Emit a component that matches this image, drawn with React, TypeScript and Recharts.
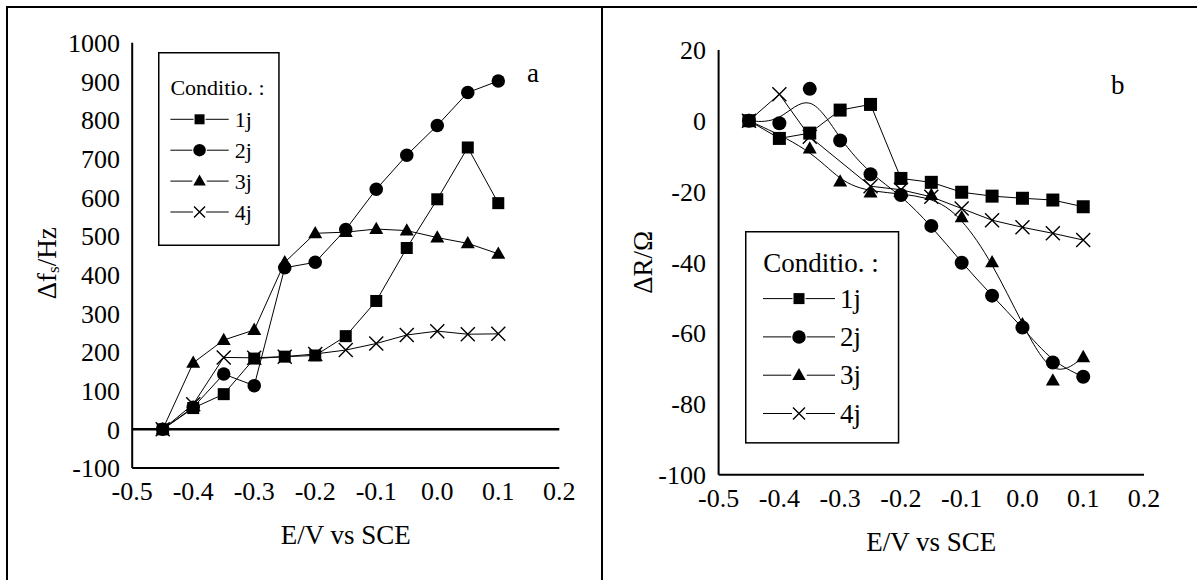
import React from 'react';
import { LineChart, Line, XAxis, YAxis, ReferenceLine, Legend, Label } from 'recharts';

const FONT = "'Liberation Serif', 'Times New Roman', Times, serif";

// ---------------- data ----------------
const potentials = [-0.45, -0.4, -0.35, -0.3, -0.25, -0.2, -0.15, -0.1, -0.05, 0.0, 0.05, 0.1];

// panel a : Δf_s / Hz
const freq1j = [0, 55, 91, 183, 188, 191, 241, 332, 469, 595, 729, 585];
const freq2j = [0, 57, 143, 113, 418, 432, 517, 621, 709, 786, 871, 901];
const freq3j = [0, 172, 231, 257, 432, 507, 510, 518, 514, 496, 481, 454];
const freq4j = [0, 65, 186, 185, 188, 195, 205, 222, 244, 254, 246, 247];

// panel b : ΔR / Ω
const res1j = [0, -5, -3.5, 3, 4.6, -16.3, -17.4, -20.2, -21.3, -21.9, -22.4, -24.3];
const res2j = [0, -0.7, 9, -5.6, -15.1, -21, -29.7, -40.1, -49.4, -58.4, -68.3, -72.3];
const res3j = [0, null, -7.9, -17.2, -20.3, null, -21, -27.3, -40, -57.5, -73.4, -66.8];
const res4j = [0, 7.5, -4.5, null, -18.5, -19.5, -21.5, -24.8, -28.1, -30.1, -31.8, -33.7];

const seriesNames = ['1j', '2j', '3j', '4j'];
const seriesShapes = ['square', 'circle', 'triangle', 'cross'];
const legendTitle = 'Conditio. :';

const xMajorTicks = [-0.5, -0.4, -0.3, -0.2, -0.1, 0, 0.1, 0.2];
const xMinorTicks = [-0.45, -0.35, -0.25, -0.15, -0.05, 0.05, 0.15];
const freqMajorTicks = [-100, 0, 100, 200, 300, 400, 500, 600, 700, 800, 900, 1000];
const freqMinorTicks = [-50, 50, 150, 250, 350, 450, 550, 650, 750, 850, 950];
const resMajorTicks = [-100, -80, -60, -40, -20, 0, 20];
const resMinorTicks = [-90, -70, -50, -30, -10, 10];

const leftData = potentials.map((x, i) => ({ x, s1: freq1j[i], s2: freq2j[i], s3: freq3j[i], s4: freq4j[i] }));
const rightData = potentials.map((x, i) => ({ x, s1: res1j[i], s2: res2j[i], s3: res3j[i], s4: res4j[i] }));

const serifStyle = { fontFamily: FONT };

// ---------------- markers ----------------
function Marker({ shape, cx, cy, size }: { shape: string; cx: number; cy: number; size: number }) {
  if (shape === 'square') {
    return <rect x={cx - size / 2} y={cy - size / 2} width={size} height={size} fill="#000" />;
  }
  if (shape === 'circle') {
    return <circle cx={cx} cy={cy} r={size / 2} fill="#000" />;
  }
  if (shape === 'triangle') {
    const h = size * 0.88;
    return (
      <polygon
        points={`${cx},${cy - 0.6 * h} ${cx - size / 2},${cy + 0.4 * h} ${cx + size / 2},${cy + 0.4 * h}`}
        fill="#000"
      />
    );
  }
  const s = size / 2;
  return (
    <path
      d={`M${cx - s},${cy - s}L${cx + s},${cy + s}M${cx - s},${cy + s}L${cx + s},${cy - s}`}
      stroke="#000"
      strokeWidth={1.4}
      fill="none"
    />
  );
}

const makeDot = (shape: string, size: number) => (props: any) => {
  const { cx, cy, key } = props;
  if (cx == null || cy == null || !isFinite(cx) || !isFinite(cy)) return <g key={key} />;
  return (
    <g key={key}>
      <Marker shape={shape} cx={cx} cy={cy} size={size} />
    </g>
  );
};

// ---------------- legend ----------------
type LegendCfg = {
  w: number; h: number; fontSize: number; titleX: number; titleY: number;
  rowY0: number; rowGap: number; lineX0: number; lineX1: number; textX: number;
  sizes: number[];
};

const makeLegend = (cfg: LegendCfg) => (props: any) => {
  const payload = props.payload || [];
  const mx = (cfg.lineX0 + cfg.lineX1) / 2;
  return (
    <svg width={cfg.w} height={cfg.h} style={{ display: 'block', overflow: 'visible' }}>
      <rect x={0.75} y={0.75} width={cfg.w - 1.5} height={cfg.h - 1.5} fill="#fff" stroke="#000" strokeWidth={1.5} />
      <text x={cfg.titleX} y={cfg.titleY} fontSize={cfg.fontSize} style={serifStyle} fill="#000" dominantBaseline="central">
        {legendTitle}
      </text>
      {payload.map((p: any, i: number) => {
        const idx = seriesNames.indexOf(p.value);
        const shape = seriesShapes[idx];
        const size = cfg.sizes[idx];
        const cy = cfg.rowY0 + i * cfg.rowGap;
        const gap = size / 2 + 1;
        return (
          <g key={p.value}>
            <line x1={cfg.lineX0} x2={mx - gap} y1={cy} y2={cy} stroke="#000" strokeWidth={1} />
            <line x1={mx + gap} x2={cfg.lineX1} y1={cy} y2={cy} stroke="#000" strokeWidth={1} />
            <Marker shape={shape} cx={mx} cy={cy} size={size} />
            <text x={cfg.textX} y={cy} fontSize={cfg.fontSize} style={serifStyle} fill="#000" dominantBaseline="central">
              {p.value}
            </text>
          </g>
        );
      })}
    </svg>
  );
};

// ---------------- axes helpers ----------------
const emptyTick = () => <g />;
const fmtX = (v: number) => v.toFixed(1);
const tickFont = { fill: '#000', fontSize: 26, fontFamily: FONT, style: serifStyle };
const frameLine = { stroke: '#000', strokeWidth: 2 };
const tickStroke = { stroke: '#000', strokeWidth: 1.5 };

function frameAxes(xDomain: number[], yDomain: number[], yMajor: number[], yMinor: number[]) {
  const xc: any = {
    type: 'number', domain: xDomain, allowDataOverflow: true, mirror: true, height: 0,
    tick: emptyTick, interval: 0, tickLine: tickStroke,
  };
  const yc: any = {
    type: 'number', domain: yDomain, allowDataOverflow: true, mirror: true, width: 0,
    tick: emptyTick, interval: 0, tickLine: tickStroke,
  };
  return [
    <XAxis key="xb1" xAxisId="xb1" orientation="bottom" ticks={xMajorTicks} tickSize={10} axisLine={false} {...xc} />,
    <XAxis key="xb2" xAxisId="xb2" orientation="bottom" ticks={xMinorTicks} tickSize={5} axisLine={false} {...xc} />,
    <XAxis key="xt1" xAxisId="xt1" orientation="top" ticks={xMajorTicks} tickSize={10} axisLine={frameLine} {...xc} />,
    <XAxis key="xt2" xAxisId="xt2" orientation="top" ticks={xMinorTicks} tickSize={5} axisLine={false} {...xc} />,
    <YAxis key="yl1" yAxisId="yl1" orientation="left" ticks={yMajor} tickSize={10} axisLine={false} {...yc} />,
    <YAxis key="yl2" yAxisId="yl2" orientation="left" ticks={yMinor} tickSize={5} axisLine={false} {...yc} />,
    <YAxis key="yr1" yAxisId="yr1" orientation="right" ticks={yMajor} tickSize={10} axisLine={frameLine} {...yc} />,
    <YAxis key="yr2" yAxisId="yr2" orientation="right" ticks={yMinor} tickSize={5} axisLine={false} {...yc} />,
  ];
}

const XTitle = (props: any) => {
  const vb = props.viewBox || { x: 0, y: 0, width: 0 };
  return (
    <text x={vb.x + vb.width / 2} y={vb.y + 76} textAnchor="middle" fontSize={27} style={serifStyle} fill="#000">
      E/V vs SCE
    </text>
  );
};

const YTitleA = (props: any) => {
  const vb = props.viewBox || { x: 0, y: 0, height: 0 };
  const cx = vb.x + 47.5;
  const cy = vb.y + vb.height / 2 + 8;
  return (
    <text
      transform={`rotate(-90 ${cx} ${cy})`}
      x={cx}
      y={cy}
      textAnchor="middle"
      dominantBaseline="central"
      fontSize={27}
      style={serifStyle}
      fill="#000"
    >
      Δf
      <tspan dy={6} fontSize={17}>s</tspan>
      <tspan dy={-6}>/Hz</tspan>
    </text>
  );
};

const YTitleB = (props: any) => {
  const vb = props.viewBox || { x: 0, y: 0, height: 0 };
  const cx = vb.x + 43;
  const cy = vb.y + vb.height / 2;
  return (
    <text
      transform={`rotate(-90 ${cx} ${cy})`}
      x={cx}
      y={cy}
      textAnchor="middle"
      dominantBaseline="central"
      fontSize={27}
      style={serifStyle}
      fill="#000"
    >
      ΔR/Ω
    </text>
  );
};

const leftSizes = [12, 13.5, 14, 14];
const rightSizes = [13, 14, 14, 14];

function seriesLines(sizes: number[], curveTypes: string[]) {
  return ['s1', 's2', 's3', 's4'].map((k, i) => (
    <Line
      key={k}
      xAxisId="x"
      yAxisId="y"
      dataKey={k}
      name={seriesNames[i]}
      type={curveTypes[i] as any}
      stroke="#000"
      strokeWidth={1}
      dot={makeDot(seriesShapes[i], sizes[i])}
      activeDot={false}
      connectNulls
      isAnimationActive={false}
    />
  ));
}

function PanelA() {
  return (
    <LineChart
      width={600}
      height={580}
      data={leftData}
      margin={{ top: 42.7, right: 40.7, left: 0, bottom: 32 }}
      style={serifStyle}
    >
      <XAxis
        xAxisId="x"
        type="number"
        dataKey="x"
        domain={[-0.5, 0.2]}
        allowDataOverflow
        ticks={xMajorTicks}
        interval={0}
        tickFormatter={fmtX}
        tickLine={false}
        tickSize={0}
        tickMargin={13.5}
        height={80}
        axisLine={frameLine}
        tick={tickFont}
        label={<Label content={XTitle} />}
      />
      <YAxis
        yAxisId="y"
        type="number"
        domain={[-100, 1000]}
        allowDataOverflow
        ticks={freqMajorTicks}
        interval={0}
        tickLine={false}
        tickSize={0}
        tickMargin={12.2}
        width={132.2}
        axisLine={frameLine}
        tick={tickFont}
        label={<Label content={YTitleA} />}
      />
      {frameAxes([-0.5, 0.2], [-100, 1000], freqMajorTicks, freqMinorTicks)}
      <ReferenceLine xAxisId="x" yAxisId="y" y={0} stroke="#000" strokeWidth={2.5} />
      {seriesLines(leftSizes, ['linear', 'linear', 'linear', 'linear'])}
      <Legend
        layout="vertical"
        align="center"
        verticalAlign="middle"
        content={makeLegend({
          w: 121.7, h: 194, fontSize: 22, titleX: 12.4, titleY: 35,
          rowY0: 67.3, rowGap: 30.9, lineX0: 12.4, lineX1: 70.7, textX: 76.7,
          sizes: [10, 12.5, 12.5, 11],
        })}
        wrapperStyle={{ left: 158.3, top: 51.7, width: 121.7, height: 194, margin: 0, padding: 0 }}
      />
    </LineChart>
  );
}

function PanelB() {
  return (
    <LineChart
      width={597}
      height={580}
      data={rightData}
      margin={{ top: 49.9, right: 53, left: 0, bottom: 25.2 }}
      style={serifStyle}
    >
      <XAxis
        xAxisId="x"
        type="number"
        dataKey="x"
        domain={[-0.5, 0.2]}
        allowDataOverflow
        ticks={xMajorTicks}
        interval={0}
        tickFormatter={fmtX}
        tickLine={false}
        tickSize={0}
        tickMargin={13.5}
        height={80}
        axisLine={frameLine}
        tick={tickFont}
        label={<Label content={XTitle} />}
      />
      <YAxis
        yAxisId="y"
        type="number"
        domain={[-100, 20]}
        allowDataOverflow
        ticks={resMajorTicks}
        interval={0}
        tickLine={false}
        tickSize={0}
        tickMargin={12.6}
        width={118.6}
        axisLine={frameLine}
        tick={tickFont}
        label={<Label content={YTitleB} />}
      />
      {frameAxes([-0.5, 0.2], [-100, 20], resMajorTicks, resMinorTicks)}
      {seriesLines(rightSizes, ['linear', 'basis', 'basis', 'linear'])}
      <Legend
        layout="vertical"
        align="center"
        verticalAlign="middle"
        content={makeLegend({
          w: 154.3, h: 212.6, fontSize: 27, titleX: 18.3, titleY: 32,
          rowY0: 67.6, rowGap: 38.3, lineX0: 18, lineX1: 90, textX: 95,
          sizes: [11, 13.5, 13.5, 12],
        })}
        wrapperStyle={{ left: 145, top: 230.7, width: 154.3, height: 212.6, margin: 0, padding: 0 }}
      />
    </LineChart>
  );
}

export default function App() {
  return (
    <div
      style={{
        position: 'absolute', left: 0, top: 0, width: 1197, height: 580,
        background: '#fff', overflow: 'hidden', fontFamily: FONT,
      }}
    >
      {/* panel frames */}
      <div style={{ position: 'absolute', left: 6, top: 6, width: 1191, height: 2, background: '#000' }} />
      <div style={{ position: 'absolute', left: 6, top: 6, width: 2, height: 574, background: '#000' }} />
      <div style={{ position: 'absolute', left: 601, top: 6, width: 2, height: 574, background: '#000' }} />

      <div style={{ position: 'absolute', left: 0, top: 0 }}>
        <PanelA />
      </div>
      <div style={{ position: 'absolute', left: 600, top: 0 }}>
        <PanelB />
      </div>

      <div style={{ position: 'absolute', left: 527, top: 58, fontSize: 27, lineHeight: '30px', color: '#000' }}>a</div>
      <div style={{ position: 'absolute', left: 1111, top: 70, fontSize: 27, lineHeight: '30px', color: '#000' }}>b</div>
    </div>
  );
}
